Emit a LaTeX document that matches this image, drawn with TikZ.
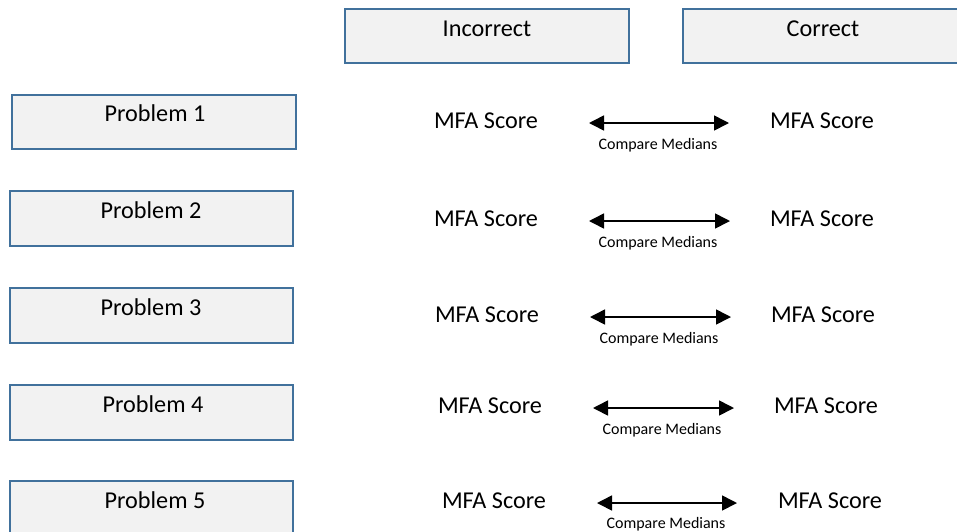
\documentclass[tikz,border=0pt]{standalone}
\usepackage{fontspec}
\setmainfont{Carlito}
\usetikzlibrary{arrows.meta}
\definecolor{boxline}{HTML}{41719C}
\definecolor{boxfill}{HTML}{F2F2F2}
\tikzset{
  hbox/.style={draw=boxline, fill=boxfill, line width=2pt, inner sep=0pt},
  big/.style={anchor=base, inner sep=0pt, font=\fontsize{24.2}{29}\selectfont},
  small/.style={anchor=base, inner sep=0pt, font=\fontsize{16}{19}\selectfont},
  cmp/.style={line width=1.6pt, {Triangle[length=15pt,width=15pt]}-{Triangle[length=15pt,width=15pt]}}
}
\begin{document}
\begin{tikzpicture}[x=1pt,y=-1pt]
\useasboundingbox (0,0) rectangle (957,531);
\clip (0,0) rectangle (957,531);
% header boxes
\node[hbox, minimum width=284pt, minimum height=54pt] (hinc) at (487,35.5) {};
\node[big] (tinc) at (487,36) {Incorrect};
\node[hbox, minimum width=284pt, minimum height=54pt] (hcor) at (825,35.5) {};
\node[big] (tcor) at (823,36) {Correct};
% problem boxes
\node[hbox, minimum width=284pt, minimum height=54pt] (p1) at (154,121.5) {};
\node[big] (tp1) at (155,121) {Problem 1};
\node[hbox, minimum width=283pt, minimum height=55pt] (p2) at (151.5,218.5) {};
\node[big] (tp2) at (151,218) {Problem 2};
\node[hbox, minimum width=283pt, minimum height=55pt] (p3) at (151.5,315.5) {};
\node[big] (tp3) at (151,315) {Problem 3};
\node[hbox, minimum width=283pt, minimum height=55pt] (p4) at (151.5,412.5) {};
\node[big] (tp4) at (153,412) {Problem 4};
\node[hbox, minimum width=283pt, minimum height=55pt] (p5) at (151.5,508.5) {};
\node[big] (tp5) at (155,508) {Problem 5};
% row 1
\node[big] (l1) at (486,128) {MFA Score};
\node[big] (r1) at (822,128) {MFA Score};
\coordinate (a1) at (589,123); \coordinate (b1) at (729,123);
\draw[cmp] (a1) -- (b1);
\node[small] (c1) at (658,149) {Compare Medians};
% row 2
\node[big] (l2) at (486,226) {MFA Score};
\node[big] (r2) at (822,226) {MFA Score};
\coordinate (a2) at (589,221); \coordinate (b2) at (730,221);
\draw[cmp] (a2) -- (b2);
\node[small] (c2) at (658,247) {Compare Medians};
% row 3
\node[big] (l3) at (487,322) {MFA Score};
\node[big] (r3) at (823,322) {MFA Score};
\coordinate (a3) at (590,317); \coordinate (b3) at (731,317);
\draw[cmp] (a3) -- (b3);
\node[small] (c3) at (659,343) {Compare Medians};
% row 4
\node[big] (l4) at (490,413) {MFA Score};
\node[big] (r4) at (826,413) {MFA Score};
\coordinate (a4) at (593,408); \coordinate (b4) at (734,408);
\draw[cmp] (a4) -- (b4);
\node[small] (c4) at (662,434) {Compare Medians};
% row 5
\node[big] (l5) at (494,508) {MFA Score};
\node[big] (r5) at (830,508) {MFA Score};
\coordinate (a5) at (597,503); \coordinate (b5) at (737,503);
\draw[cmp] (a5) -- (b5);
\node[small] (c5) at (666,528) {Compare Medians};
\end{tikzpicture}
\end{document}
